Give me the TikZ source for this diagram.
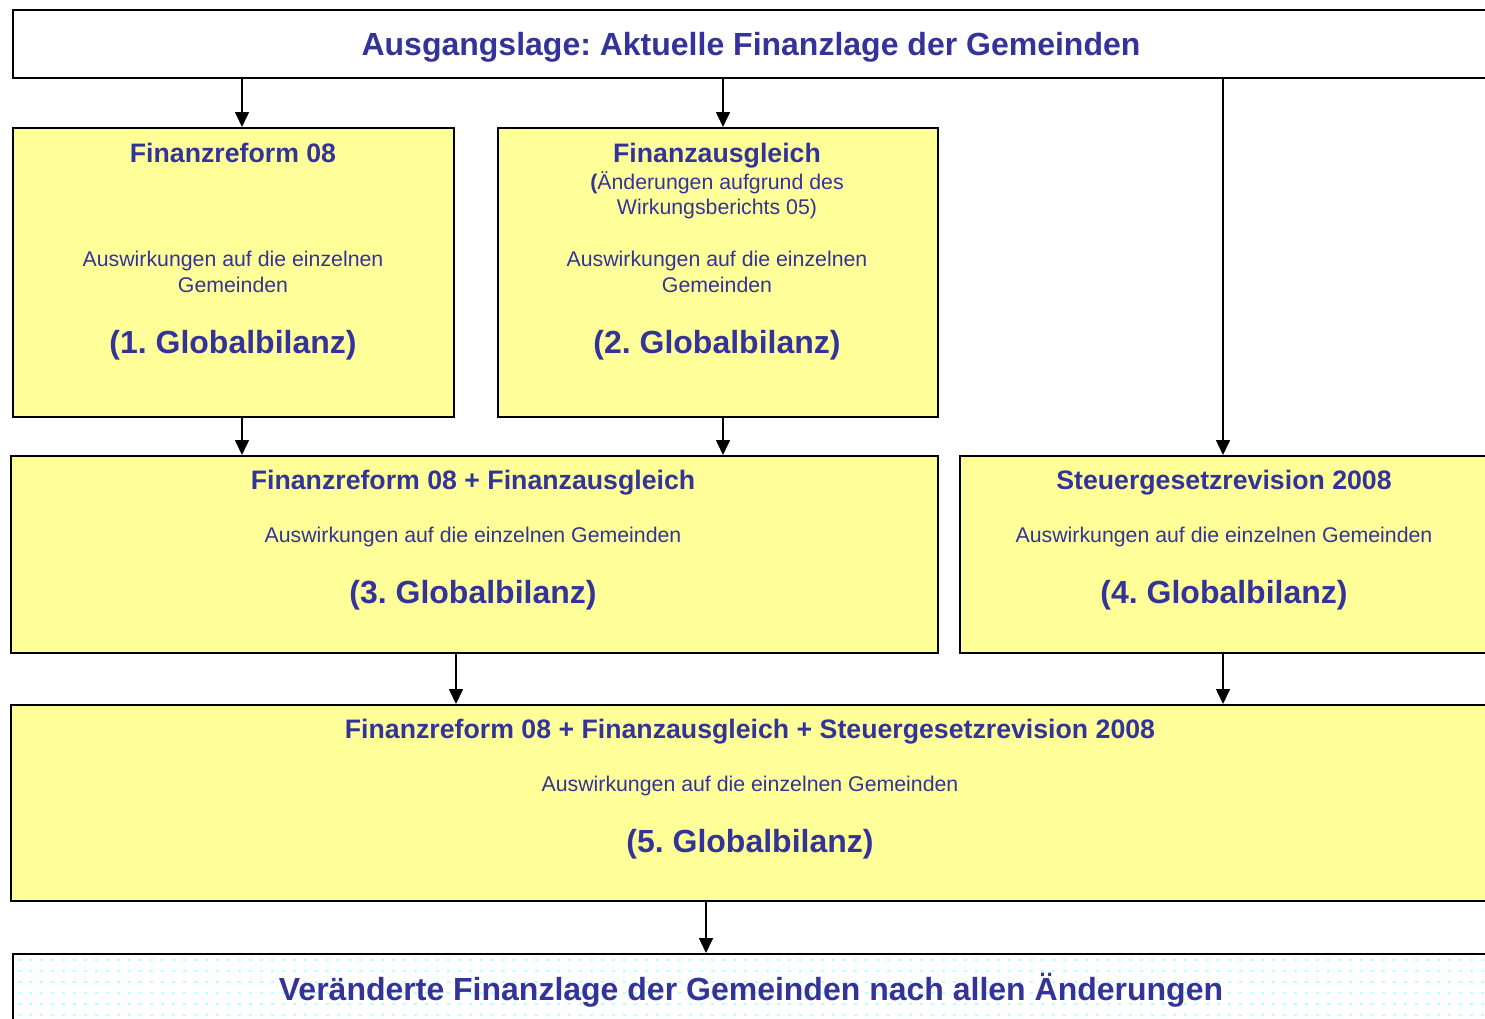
\documentclass[tikz,border=0pt]{standalone}
\usepackage{fontspec}
\setmainfont{Liberation Sans}
\usetikzlibrary{arrows.meta}
\definecolor{txtblue}{HTML}{333399}
\definecolor{boxyellow}{HTML}{FFFF99}
\definecolor{dotcyan}{HTML}{B8FFFF}
\tikzset{
  box/.style={draw=black, line width=2pt, fill=boxyellow, rectangle, inner sep=0pt},
  wbox/.style={draw=black, line width=2pt, fill=white, rectangle, inner sep=0pt},
  arr/.style={line width=1.6pt, -{Triangle[width=14pt,length=15pt]}},
  txt/.style={inner sep=0pt, anchor=base, text=txtblue, align=center},
  ttl/.style={txt, font=\fontsize{32}{38}\selectfont\bfseries},
  hdr/.style={txt, font=\fontsize{26.7}{32}\selectfont\bfseries},
  bdy/.style={txt, font=\fontsize{21.3}{26}\selectfont},
  glb/.style={txt, font=\fontsize{32}{38}\selectfont\bfseries},
}
\frenchspacing
\begin{document}
\frenchspacing
\begin{tikzpicture}[x=1pt,y=-1pt]
\clip (0,0) rectangle (1485,1018);
\fill[white] (0,0) rectangle (1485,1018);
% boxes
\node[wbox, minimum width=1480pt, minimum height=68pt, anchor=north west] (top) at (12,9) {};
\node[box, minimum width=441pt, minimum height=289pt, anchor=north west] (b1) at (12,127) {};
\node[box, minimum width=440pt, minimum height=289pt, anchor=north west] (b2) at (497,127) {};
\node[box, minimum width=927pt, minimum height=197pt, anchor=north west] (b3) at (10,455) {};
\node[box, minimum width=535pt, minimum height=197pt, anchor=north west] (b4) at (959,455) {};
\node[box, minimum width=1484pt, minimum height=196pt, anchor=north west] (b5) at (10,704) {};
\node[wbox, minimum width=1480pt, minimum height=100pt, anchor=north west] (b6) at (12,953) {};
% dotted fill of bottom box
\begin{scope}
\clip (13,954) rectangle (1485,1018);
\foreach \x in {18,29,...,1485} {
  \foreach \y in {959,970,...,1018} {
    \fill[dotcyan] (\x,\y) rectangle ++(3,2);
  }
}
\end{scope}
% texts
\node[ttl] (ttop) at (751,55.5) {Ausgangslage: Aktuelle Finanzlage der Gemeinden};
\node[hdr] (h1) at (233,162.5) {Finanzreform 08};
\node[bdy] (a1) at (233,266) {Auswirkungen auf die einzelnen};
\node[bdy] (g1) at (233,292) {Gemeinden};
\node[glb] (gl1) at (233,353.5) {(1. Globalbilanz)};
\node[hdr] (h2) at (717,162.5) {Finanzausgleich};
\node[bdy] (s2a) at (717,189) {\textbf{(}Änderungen aufgrund des};
\node[bdy] (s2b) at (717,214) {Wirkungsberichts 05)};
\node[bdy] (a2) at (717,266) {Auswirkungen auf die einzelnen};
\node[bdy] (g2) at (717,292) {Gemeinden};
\node[glb] (gl2) at (717,353.5) {(2. Globalbilanz)};
\node[hdr] (h3) at (473,489.5) {Finanzreform 08 + Finanzausgleich};
\node[bdy] (a3) at (473,542) {Auswirkungen auf die einzelnen Gemeinden};
\node[glb] (gl3) at (473,603.5) {(3. Globalbilanz)};
\node[hdr] (h4) at (1224,489.5) {Steuergesetzrevision 2008};
\node[bdy] (a4) at (1224,542) {Auswirkungen auf die einzelnen Gemeinden};
\node[glb] (gl4) at (1224,603.5) {(4. Globalbilanz)};
\node[hdr] (h5) at (750,738.5) {Finanzreform 08 + Finanzausgleich + Steuergesetzrevision 2008};
\node[bdy] (a5) at (750,791) {Auswirkungen auf die einzelnen Gemeinden};
\node[glb] (gl5) at (750,852.5) {(5. Globalbilanz)};
\node[ttl] (tb6) at (751,1000.5) {Veränderte Finanzlage der Gemeinden nach allen Änderungen};
% connectors
\coordinate (xa) at (242,0);
\coordinate (xb) at (723,0);
\coordinate (xc) at (1223,0);
\coordinate (xd) at (456,0);
\coordinate (xe) at (706,0);
\draw[arr] (top.south -| xa) -- (b1.north -| xa);
\draw[arr] (top.south -| xb) -- (b2.north -| xb);
\draw[arr] (top.south -| xc) -- (b4.north -| xc);
\draw[arr] (b1.south -| xa) -- (b3.north -| xa);
\draw[arr] (b2.south -| xb) -- (b3.north -| xb);
\draw[arr] (b3.south -| xd) -- (b5.north -| xd);
\draw[arr] (b4.south -| xc) -- (b5.north -| xc);
\draw[arr] (b5.south -| xe) -- (b6.north -| xe);
\end{tikzpicture}
\end{document}
